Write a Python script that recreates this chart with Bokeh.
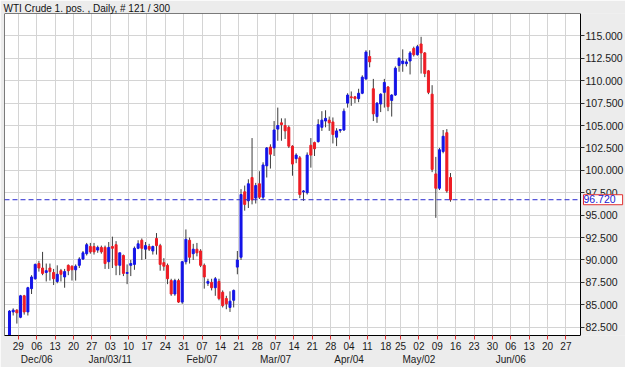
import pandas as pd
from bokeh.plotting import figure
from bokeh.models import (ColumnDataSource, Range1d, FixedTicker, LinearAxis,
                          Label, PrintfTickFormatter)
from bokeh.embed import file_html
from bokeh.resources import INLINE

# ---------------- data ----------------
title_text = "WTI Crude 1. pos. , Daily, # 121 / 300"
last_value = 96.72

opens = [81.5, 84.2, 84.4, 83.6, 86.0, 84.2, 86.8, 87.9, 89.6, 89.1,
         88.6, 89.1, 88.6, 87.6, 88.8, 88.1, 89.4, 89.3, 88.9, 89.4,
         90.1, 90.7, 91.5, 91.5, 91.1, 91.4, 91.4, 89.8, 91.5, 91.7,
         89.4, 90.5, 88.5, 89.4, 89.5, 91.3, 92.2, 91.2, 91.5, 91.0,
         92.4, 91.6, 89.7, 89.4, 87.7, 86.2, 87.7, 85.3, 89.8, 92.2,
         90.7, 91.2, 91.0, 89.4, 87.4, 87.5, 86.9, 87.6, 86.4, 85.7,
         84.7, 85.5, 89.2, 90.3, 97.6, 96.6, 99.2, 96.9, 98.5, 97.0,
         100.5, 102.6, 102.5, 104.6, 105.3, 105.0, 104.8, 102.7, 101.3, 101.4,
         97.6, 97.5, 102.8, 103.1, 103.2, 104.8, 105.5, 105.6, 105.4, 103.7,
         104.45, 104.5, 107.5, 108.2, 108.2, 108.0, 108.6, 110.2, 112.7, 109.1,
         106.0, 107.4, 108.7, 109.3, 107.8, 108.4, 111.7, 111.9, 111.9, 112.2,
         113.6, 112.9, 114.1, 113.1, 111.1, 108.5, 99.6, 98.0, 102.1, 104.2,
         99.2]
highs = [84.4, 84.6, 84.5, 86.1, 86.1, 87.0, 88.3, 89.6, 89.9, 90.9,
         89.6, 89.6, 89.0, 89.4, 89.0, 89.0, 89.5, 89.4, 89.5, 90.3,
         91.0, 91.9, 91.9, 91.9, 91.6, 91.6, 91.6, 92.0, 92.6, 92.1,
         90.8, 90.6, 89.5, 90.0, 91.5, 92.2, 92.4, 92.0, 91.8, 91.6,
         93.0, 91.8, 90.2, 89.6, 87.9, 87.9, 87.9, 89.9, 93.4, 92.5,
         91.8, 91.9, 91.2, 89.6, 87.9, 87.9, 88.1, 87.9, 86.6, 86.0,
         86.5, 86.7, 91.0, 97.9, 98.3, 99.0, 103.6, 98.6, 99.9, 100.9,
         102.6, 102.9, 105.5, 107.0, 105.8, 105.8, 105.0, 102.8, 101.9, 101.6,
         97.8, 102.0, 103.6, 103.2, 105.7, 106.6, 106.7, 106.0, 105.9, 104.7,
         104.6, 106.9, 108.6, 108.8, 108.3, 109.1, 110.6, 113.4, 113.4, 110.2,
         107.6, 108.6, 110.2, 109.4, 108.5, 111.6, 112.6, 113.5, 112.4, 113.3,
         113.8, 114.0, 114.9, 113.2, 111.2, 109.5, 101.5, 102.5, 104.5, 104.6,
         99.7]
lows = [81.2, 83.8, 82.9, 83.5, 83.9, 83.8, 86.2, 87.8, 88.7, 88.3,
        87.6, 87.7, 87.2, 87.4, 87.6, 86.9, 88.3, 87.7, 87.7, 89.1,
        90.0, 90.5, 90.7, 90.6, 90.8, 90.7, 89.0, 89.0, 89.1, 88.3,
        88.3, 88.2, 87.3, 88.2, 88.9, 91.2, 90.0, 90.1, 91.0, 90.6,
        90.6, 88.8, 88.8, 87.3, 86.0, 86.0, 85.2, 85.1, 89.5, 89.6,
        90.0, 90.4, 89.2, 86.8, 87.1, 86.6, 86.0, 85.5, 84.7, 84.5,
        84.2, 84.7, 88.4, 90.0, 95.5, 95.8, 96.2, 96.3, 96.8, 96.7,
        99.2, 100.2, 101.6, 103.3, 103.3, 103.5, 102.5, 99.4, 100.8, 96.9,
        96.6, 97.3, 100.3, 101.6, 103.1, 104.4, 104.8, 104.4, 103.0, 102.7,
        104.2, 104.4, 107.0, 107.2, 107.5, 107.6, 108.5, 110.1, 111.5, 105.5,
        105.3, 106.5, 107.0, 106.6, 106.0, 108.3, 111.0, 111.0, 111.6, 110.7,
        112.7, 112.8, 110.8, 110.4, 108.5, 99.8, 94.7, 97.8, 101.9, 97.5,
        96.5]
closes = [84.3, 84.4, 84.1, 86.0, 84.2, 86.9, 88.1, 89.5, 89.1, 88.5,
          88.8, 88.7, 87.9, 88.4, 88.4, 88.7, 88.8, 88.9, 89.3, 90.1,
          90.8, 91.7, 90.9, 90.9, 91.4, 90.9, 89.6, 91.4, 91.3, 89.4,
          90.8, 88.5, 88.6, 89.6, 91.3, 91.8, 91.3, 91.6, 91.2, 91.5,
          91.6, 89.5, 89.3, 87.9, 86.2, 87.7, 85.3, 89.8, 92.3, 90.3,
          91.2, 90.8, 89.4, 88.1, 87.6, 86.9, 87.9, 85.7, 84.9, 85.1,
          85.4, 86.6, 90.0, 97.3, 96.2, 98.5, 96.7, 98.3, 97.0, 100.6,
          102.5, 101.8, 104.5, 105.0, 105.1, 104.4, 102.7, 100.7, 101.7, 97.3,
          97.7, 101.7, 101.7, 102.4, 105.1, 105.6, 105.8, 105.3, 104.0, 104.4,
          104.55, 106.6, 108.4, 108.1, 108.0, 108.6, 110.4, 113.2, 112.1, 106.3,
          107.5, 108.5, 109.8, 107.1, 108.4, 111.4, 112.5, 112.2, 112.1, 113.1,
          112.9, 113.8, 113.1, 110.8, 108.7, 100.1, 98.0, 102.3, 103.8, 97.7,
          96.72]

price_ticks = [82.5, 85.0, 87.5, 90.0, 92.5, 95.0, 97.5, 100.0, 102.5,
               105.0, 107.5, 110.0, 112.5, 115.0]
week_starts = ["2010-11-29", "2010-12-06", "2010-12-13", "2010-12-20", "2010-12-27",
               "2011-01-03", "2011-01-10", "2011-01-17", "2011-01-24", "2011-01-31",
               "2011-02-07", "2011-02-14", "2011-02-21", "2011-02-28", "2011-03-07",
               "2011-03-14", "2011-03-21", "2011-03-28", "2011-04-04", "2011-04-11",
               "2011-04-18", "2011-04-25", "2011-05-02", "2011-05-09", "2011-05-16",
               "2011-05-23", "2011-05-30", "2011-06-06", "2011-06-13", "2011-06-20",
               "2011-06-27"]
month_starts = ["2010-12-06", "2011-01-03", "2011-02-07", "2011-03-07",
                "2011-04-04", "2011-05-02", "2011-06-06"]
month_labels = ["Dec/06", "Jan/03/11", "Feb/07", "Mar/07", "Apr/04", "May/02", "Jun/06"]

# trading-day index (Good Friday closed)
days = [d for d in pd.bdate_range("2010-11-25", "2011-07-08")
        if d != pd.Timestamp("2011-04-22")]
day_pos = {d.strftime("%Y-%m-%d"): i for i, d in enumerate(days)}

TICK_SHIFT = 0.4
week_ticks = [day_pos[d] + TICK_SHIFT for d in week_starts]
week_over = {day_pos[d] + TICK_SHIFT: d[-2:] for d in week_starts}
month_ticks = [day_pos[d] + TICK_SHIFT for d in month_starts]
month_over = {day_pos[d] + TICK_SHIFT: lab for d, lab in zip(month_starts, month_labels)}

# ---------------- layout / ranges ----------------
PX = 3.675                      # pixels per trading day
X0, X_EDGE, X1 = -1.36, -1.36 + 576 / PX, -1.36 + 621 / PX
Y0, Y1 = 81.57, 117.5
BG = "#ECECEC"
UP, DOWN = "#1414E8", "#EE1C24"
FONT = "Liberation Sans"

src = ColumnDataSource(dict(
    x=list(range(len(opens))),
    high=highs, low=lows,
    top=[max(o, c) for o, c in zip(opens, closes)],
    bottom=[min(o, c) for o, c in zip(opens, closes)],
    color=[UP if c >= o else DOWN for o, c in zip(opens, closes)],
))

p = figure(width=625, height=367,
           x_range=Range1d(X0, X1), y_range=Range1d(Y0, Y1),
           y_axis_location="right", output_backend="svg", toolbar_location=None,
           min_border_left=4, min_border_right=0, min_border_top=0, min_border_bottom=0,
           background_fill_color=BG, border_fill_color=BG, outline_line_color=None)

xa = p.below[0]
ya = p.right[0]

p.title.text = title_text
p.title.text_font = FONT
p.title.text_font_size = "10px"
p.title.text_font_style = "normal"
p.title.text_color = "#111111"
p.title.standoff = 0
p.title.offset = -1

# white plotting area (under the grid)
p.quad(left=[X0], right=[X_EDGE], bottom=[Y0], top=[Y1], fill_color="white",
       line_color=None, level="image")

p.xgrid.grid_line_color = "#D4D4D4"
p.ygrid.grid_line_color = "#D4D4D4"

# x axis (weekly)
xa.ticker = FixedTicker(ticks=week_ticks)
xa.major_label_overrides = week_over
xa.bounds = (X0, X_EDGE)
xa.axis_line_color = "black"
xa.major_tick_line_color = "#E03030"
xa.major_tick_out = 4
xa.major_tick_in = 0
xa.minor_tick_line_color = None
xa.major_label_standoff = 2
xa.major_label_text_font = FONT
xa.major_label_text_font_size = "10px"
xa.major_label_text_color = "#1a1a1a"

ax2 = LinearAxis(ticker=FixedTicker(ticks=month_ticks), major_label_overrides=month_over,
                 axis_line_color=None, major_tick_line_color=None, minor_tick_line_color=None,
                 major_tick_out=0, major_tick_in=0, major_label_standoff=1,
                 major_label_text_font=FONT, major_label_text_font_size="10px",
                 major_label_text_color="#1a1a1a")
p.add_layout(ax2, "below")

# y axis (right, drawn at the edge of the white area)
ya.fixed_location = X_EDGE
ya.ticker = FixedTicker(ticks=price_ticks)
ya.formatter = PrintfTickFormatter(format="%.3f")
ya.axis_line_color = "black"
ya.major_tick_line_color = "#333333"
ya.major_tick_out = 4
ya.major_tick_in = 0
ya.minor_tick_line_color = None
ya.major_label_standoff = 1
ya.major_label_text_font = FONT
ya.major_label_text_font_size = "10.5px"
ya.major_label_text_color = "#1a1a1a"

# frame lines on the left and top
p.add_layout(LinearAxis(fixed_location=X0, ticker=FixedTicker(ticks=[]),
                        axis_line_color="black", major_tick_line_color=None,
                        minor_tick_line_color=None), "left")
p.add_layout(LinearAxis(fixed_location=Y1, bounds=(X0, X_EDGE), ticker=FixedTicker(ticks=[]),
                        axis_line_color="black", major_tick_line_color=None,
                        minor_tick_line_color=None), "above")

# grey band right of the white area (hides grid lines there)
p.quad(left=[X_EDGE], right=[X1], bottom=[Y0], top=[Y1], fill_color=BG, line_color=None)

# candles
p.segment(x0="x", y0="low", x1="x", y1="high", line_color="#3c3c3c", line_width=1, source=src)
p.vbar(x="x", width=0.55, top="top", bottom="bottom", fill_color="color",
       line_color="color", line_width=1, source=src)

# last value line + box
p.segment(x0=[X0], y0=[last_value], x1=[X_EDGE], y1=[last_value], line_color="#2a2ad0",
          line_dash="5 3", line_width=1)
p.add_layout(Label(x=X_EDGE + 3 / PX, y=last_value, text=f"{last_value:.3f}", text_font=FONT,
                   text_font_size="10.5px", text_color="#2020d0", text_baseline="middle",
                   background_fill_color="white", border_line_color="#E03030",
                   padding=(0, 7, 0, 2)))

open("out.html", "w").write(file_html(p, INLINE))
